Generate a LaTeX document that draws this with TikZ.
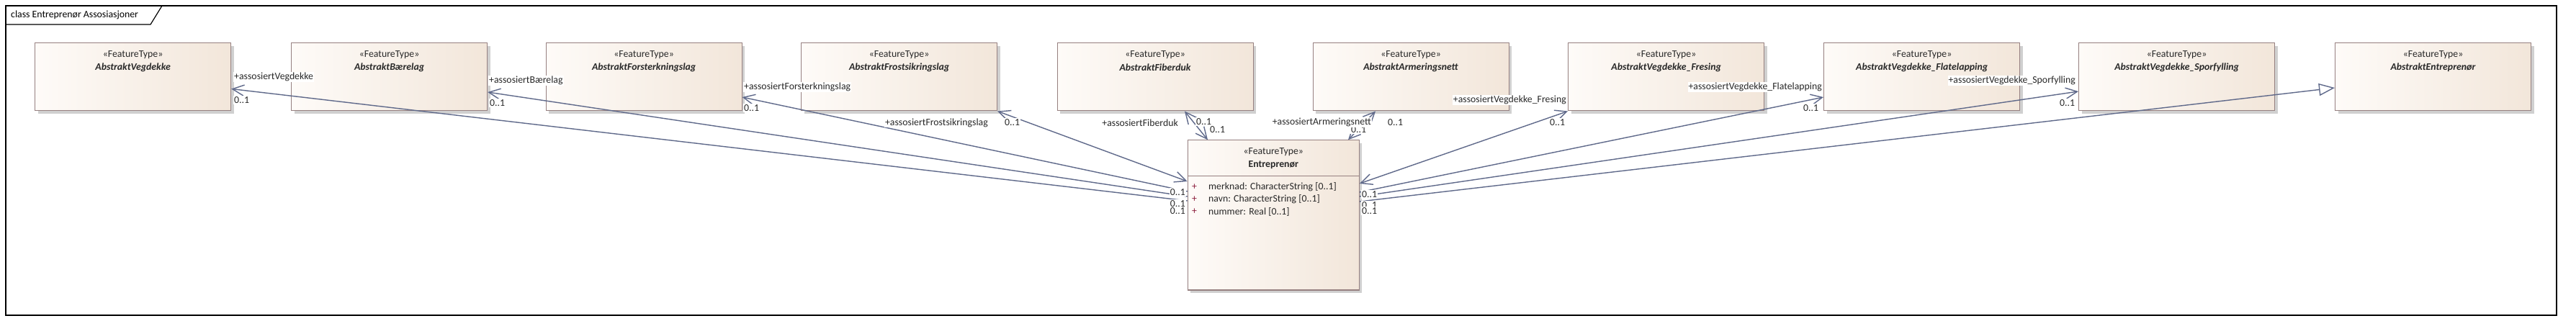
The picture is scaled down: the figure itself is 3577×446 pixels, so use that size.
\documentclass[tikz,border=0pt]{standalone}
\usepackage{fontspec}
\setmainfont{Carlito}
\usetikzlibrary{arrows.meta,shadows,calc}
\definecolor{boxL}{RGB}{254,251,248}
\definecolor{boxR}{RGB}{242,230,218}
\definecolor{boxB}{RGB}{150,128,128}
\definecolor{lineC}{RGB}{95,105,138}
\definecolor{txt}{RGB}{40,40,40}
\definecolor{plusC}{RGB}{140,30,60}
\begin{document}
\begin{tikzpicture}[x=1pt,y=-1pt,
  every node/.style={font=\fontsize{13.8}{16}\selectfont, text=txt},
  cls/.style={draw=boxB, line width=1.2pt, left color=boxL, right color=boxR,
    minimum width=272pt, minimum height=94pt, anchor=north west, inner sep=0pt,
    drop shadow={shadow xshift=4pt, shadow yshift=-4pt, fill=black!30, opacity=0.6}},
  ster/.style={inner sep=0pt},
  cname/.style={inner sep=0pt},
  lbl/.style={fill=white, inner sep=1pt},
  conn/.style={draw=lineC, line width=1.4pt},
  navone/.style={conn, -{Straight Barb[length=16pt,width=15pt]}},
  navtwo/.style={conn, {Straight Barb[length=16pt,width=15pt]}-{Straight Barb[length=16pt,width=15pt]}},
  gen/.style={conn, -{Triangle[open,length=22pt,width=17pt,fill=white]}}
]
\fill[white] (0,0) rectangle (3577,446);
\useasboundingbox (0,0) rectangle (3577,446);

% frame
\draw[line width=1.5pt] (8,8) rectangle (3550,438);
\draw[line width=1.2pt] (8,34) -- (209,34) -- (225,8);
\node[anchor=west, inner sep=0pt, text=black] (title) at (15,21) {class Entreprenør Assosiasjoner};

% feature type boxes
\foreach \n/\x/\t in {veg/48/AbstraktVegdekke, baere/404/AbstraktBærelag,
  forst/757.5/AbstraktForsterkningslag, frost/1112/AbstraktFrostsikringslag,
  fiber/1467.5/AbstraktFiberduk, armer/1822.5/AbstraktArmeringsnett,
  fres/2177/AbstraktVegdekke\_Fresing, flate/2532/AbstraktVegdekke\_Flatelapping,
  spor/2886/AbstraktVegdekke\_Sporfylling, aentr/3242/AbstraktEntreprenør}{
  \node[cls] (\n) at (\x,59.3) {};
  \node[ster] (\n-s) at ($(\n.north)+(0,16.7)$) {«FeatureType»};
  \node[cname] (\n-n) at ($(\n.north)+(0,34.7)$) {\textbf{\textit{\t}}};
}

% Entreprenør
\node[cls, minimum width=238pt, minimum height=208pt] (entr) at (1648.7,194.3) {};
\draw[draw=boxB, line width=1.2pt] ($(entr.north west)+(0,50)$) coordinate (sepL) -- ($(entr.north east)+(0,50)$) coordinate (sepR);
\node[ster] (entr-s) at ($(entr.north)+(0,16.7)$) {«FeatureType»};
\node[cname] (entr-n) at ($(entr.north)+(0,34.7)$) {\textbf{Entreprenør}};
\foreach \i/\a/\yy in {1/merknad: CharacterString [0..1]/65, 2/navn: CharacterString [0..1]/82.2, 3/nummer: Real [0..1]/99.7}{
  \node[inner sep=0pt, text=plusC] (p\i) at ($(entr.north west)+(9.8,\yy)$) {+};
  \node[inner sep=0pt, anchor=west] (a\i) at ($(entr.north west)+(29.3,\yy)$) {\a};
}

% connector end points
\coordinate (veg-p) at ($(veg.north east)+(0,64.2)$);
\coordinate (baere-p) at ($(baere.north east)+(0,68.7)$);
\coordinate (forst-p) at ($(forst.north east)+(0,75.7)$);
\coordinate (frost-p) at (frost.south east);
\coordinate (fiber-p) at ($(fiber.south west)+(177.5,0)$);
\coordinate (armer-p) at ($(armer.south west)+(87.5,0)$);
\coordinate (fres-p) at (fres.south west);
\coordinate (flate-p) at ($(flate.north west)+(0,75.7)$);
\coordinate (spor-p) at ($(spor.north west)+(0,67.7)$);
\coordinate (aentr-p) at ($(aentr.north west)+(0,62.7)$);

\coordinate (e-veg) at ($(entr.north west)+(0,84.7)$);
\coordinate (e-baere) at ($(entr.north west)+(0,78.7)$);
\coordinate (e-forst) at ($(entr.north west)+(0,71.7)$);
\coordinate (e-frost) at ($(entr.north west)+(0,57.7)$);
\coordinate (e-fiber) at ($(entr.north west)+(28.3,0)$);
\coordinate (e-armer) at ($(entr.north west)+(223.3,0)$);
\coordinate (e-fres) at ($(entr.north east)+(0,60.7)$);
\coordinate (e-flate) at ($(entr.north east)+(0,72.7)$);
\coordinate (e-spor) at ($(entr.north east)+(0,78.7)$);
\coordinate (e-aentr) at ($(entr.north east)+(0,85.7)$);

% connectors
\draw[navone] (e-veg) -- (veg-p);
\draw[navone] (e-baere) -- (baere-p);
\draw[navone] (e-forst) -- (forst-p);
\draw[navtwo] (e-frost) -- (frost-p);
\draw[navtwo] (e-fiber) -- (fiber-p);
\draw[navtwo] (e-armer) -- (armer-p);
\draw[navtwo] (e-fres) -- (fres-p);
\draw[navone] (e-flate) -- (flate-p);
\draw[navone] (e-spor) -- (spor-p);
\draw[gen] (e-aentr) -- (aentr-p);

% labels
\node[lbl, anchor=west] (l1) at (324,107.3) {+assosiertVegdekke};
\node[lbl, anchor=west] (m1) at (324,139) {0..1};
\node[lbl, anchor=west] (l2) at (678,111.7) {+assosiertBærelag};
\node[lbl, anchor=west] (m2) at (679,143) {0..1};
\node[lbl, anchor=west] (l3) at (1032,120.7) {+assosiertForsterkningslag};
\node[lbl, anchor=west] (m3) at (1032,150) {0..1};
\node[lbl, anchor=east] (l4) at (1373,170.5) {+assosiertFrostsikringslag};
\node[lbl, anchor=west] (m4) at (1394,170) {0..1};
\node[lbl, anchor=east] (l5) at (1637,170.5) {+assosiertFiberduk};
\node[lbl, anchor=west] (m5) at (1660,169) {0..1};
\node[lbl, anchor=west] (m5b) at (1679,180) {0..1};
\node[lbl, anchor=west] (m6b) at (1875,180) {0..1};
\node[lbl, anchor=east] (l6) at (1905,170) {+assosiertArmeringsnett};
\node[lbl, anchor=west] (m6) at (1926,170) {0..1};
\node[lbl, anchor=east] (l7) at (2176,139) {+assosiertVegdekke\_Fresing};
\node[lbl, anchor=west] (m7) at (2151,170) {0..1};
\node[lbl, anchor=east] (l8) at (2531,120.7) {+assosiertVegdekke\_Flatelapping};
\node[lbl, anchor=west] (m8) at (2503,150) {0..1};
\node[lbl, anchor=east] (l9) at (2883,111.7) {+assosiertVegdekke\_Sporfylling};
\node[lbl, anchor=west] (m9) at (2859,142.7) {0..1};

\node[lbl, anchor=east] (mL2) at (1647,283) {0..1};
\node[lbl, anchor=east] (mL1) at (1647,267) {0..1};
\node[lbl, anchor=east] (mL3) at (1647,293) {0..1};
\node[lbl, anchor=west] (mR2) at (1890,285) {0..1};
\node[lbl, anchor=west] (mR1) at (1890,270) {0..1};
\node[lbl, anchor=west] (mR3) at (1890,293) {0..1};
\end{tikzpicture}
\end{document}
